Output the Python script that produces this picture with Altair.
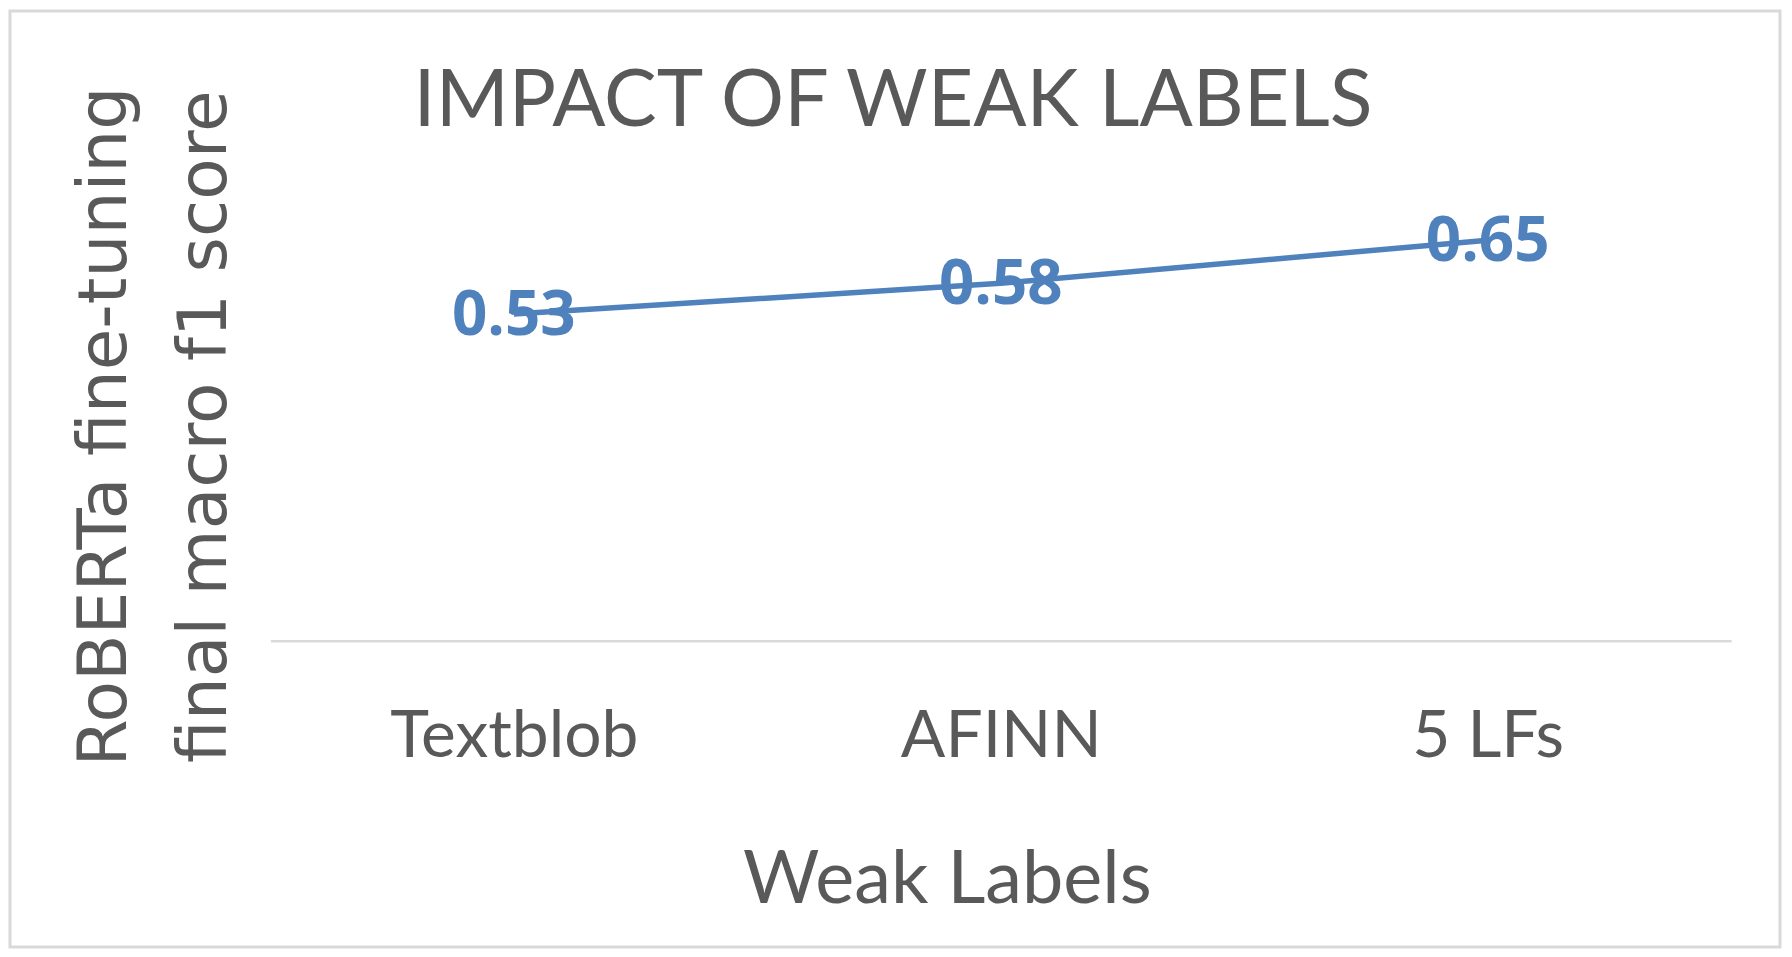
import altair as alt
import pandas as pd

categories = ["Textblob", "AFINN", "5 LFs"]
scores = [0.53, 0.58, 0.65]
score_labels = ["0.53", "0.58", "0.65"]

df = pd.DataFrame({"label": categories, "score": scores, "txt": score_labels})

BLUE = "#4F81BD"
GRAY = "#595959"

x_enc = alt.X(
    "label:N",
    sort=categories,
    scale=alt.Scale(padding=0.5),
    axis=alt.Axis(
        title="Weak Labels",
        domain=True, domainColor="#D9D9D9", domainWidth=2.5,
        ticks=False, tickSize=0, grid=False,
        labelFont="Lato", labelFontSize=66, labelColor=GRAY, labelLimit=1000,
        labelAngle=0, labelPadding=116, labelBaseline="alphabetic",
        titleFont="Lato", titleFontSize=74, titleFontWeight="normal", titleColor=GRAY,
        titleX=678, titleY=262, titleAlign="center", titleBaseline="alphabetic",
    ),
)
y_enc = alt.Y(
    "score:Q",
    scale=alt.Scale(domain=[0, 0.8], nice=False, zero=True),
    axis=alt.Axis(
        title=["RoBERTa fine-tuning", "final macro f1 score"],
        labels=False, ticks=False, domain=False, grid=False,
        titleFont="DejaVu Sans", titleFontSize=68, titleFontWeight="normal", titleColor=GRAY,
        titleAngle=270, titleX=-145, titleY=279, titleAlign="center",
        titleBaseline="alphabetic", titleLineHeight=100, titleLimit=2000,
    ),
)

base = alt.Chart(df)

line = base.mark_line(color=BLUE, strokeWidth=5.5).encode(x=x_enc, y=y_enc)
labels = base.mark_text(
    font="Open Sans", fontSize=62, fontWeight="bold", color=BLUE, baseline="middle", dy=2
).encode(x=alt.X("label:N", sort=categories), y="score:Q", text="txt:N")

border = alt.Chart(pd.DataFrame({"a": [0]})).mark_rect(
    fill=None, fillOpacity=0, stroke="#D9D9D9", strokeWidth=3
).encode(
    x=alt.value(-261), x2=alt.value(1513), y=alt.value(-137), y2=alt.value(801)
)

chart = alt.layer(border, line, labels).properties(
    width=1464,
    height=494,
    background="white",
    title=alt.Title(
        "IMPACT OF WEAK LABELS", font="Lato", fontSize=79, fontWeight="normal",
        color=GRAY, anchor="middle", frame="group", dx=-108, baseline="alphabetic",
        offset=0, dy=196,
    ),
    autosize=alt.AutoSizeParams(type="none"),
    padding={"left": 263, "top": 139, "right": 53, "bottom": 311},
).configure_view(stroke=None, strokeWidth=0)

chart.save("out.html", embed_options={"renderer": "svg", "actions": False})
